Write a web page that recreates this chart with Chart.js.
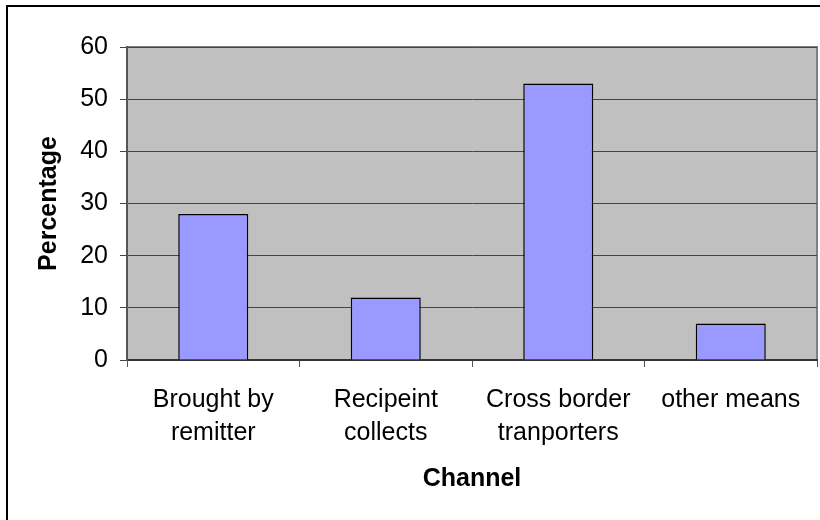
<!DOCTYPE html>
<html>
<head>
<meta charset="utf-8">
<script src="https://cdn.jsdelivr.net/npm/chart.js@4"></script>
<style>
  html, body { margin: 0; padding: 0; background: #fff; }
  #wrap { width: 820px; height: 520px; }
</style>
</head>
<body>
<div id="wrap"><canvas id="chart1" width="820" height="520"></canvas></div>
<script>
// channels used to send money home
const channels = [['Brought by', 'remitter'], ['Recipeint', 'collects'], ['Cross border', 'tranporters'], 'other means'];
const percentages = [28, 12, 53, 7];
const yTicks = [0, 10, 20, 30, 40, 50, 60];

const FONT = 'Liberation Sans, Arial, Helvetica, sans-serif';

// grey plot area + outer frame
const frame = {
    id: 'frame',
    beforeDraw(chart) {
        const c = chart.ctx;
        const a = chart.chartArea;
        c.save();
        c.fillStyle = '#fff';
        c.fillRect(0, 0, chart.width, chart.height);
        c.strokeStyle = '#000';
        c.lineWidth = 2;
        c.strokeRect(7, 6, chart.width + 20, chart.height + 20);
        c.fillStyle = '#c0c0c0';
        c.fillRect(a.left, a.top, a.right - a.left, a.bottom - a.top);
        c.strokeStyle = '#808080';
        c.lineWidth = 2;
        c.strokeRect(a.left, a.top, a.right - a.left, a.bottom - a.top);
        c.restore();
    }
};

const ctx1 = document.getElementById('chart1').getContext('2d');
const chart1 = new Chart(ctx1, {
    type: 'bar',
    data: {
        labels: channels,
        datasets: [{
            label: 'Percentage',
            data: percentages,
            backgroundColor: '#9999ff',
            borderColor: '#000',
            borderWidth: 1.5,
            categoryPercentage: 1,
            barPercentage: 0.406
        }]
    },
    options: {
        responsive: false,
        animation: false,
        layout: { padding: { left: 28, top: 47, right: 3, bottom: 22 } },
        plugins: { legend: { display: false }, tooltip: { enabled: false } },
        scales: {
            x: {
                afterFit(s) { s.height = 138; },
                grid: { display: true, drawOnChartArea: false, tickLength: 7, color: '#555', offset: true },
                border: { color: '#333', width: 2 },
                ticks: { color: '#000', font: { family: FONT, size: 25, lineHeight: 1.3 }, padding: 17, maxRotation: 0, autoSkip: false },
                title: { display: true, text: 'Channel', color: '#000', font: { family: FONT, size: 25, weight: 'bold' }, padding: { top: 4, bottom: 4 } }
            },
            y: {
                min: 0,
                max: 60,
                afterFit(s) { s.width = 99; },
                afterBuildTicks(s) { s.ticks = yTicks.map(v => ({ value: v })); },
                grid: { color: '#444', lineWidth: 1, tickLength: 7 },
                border: { color: '#555', width: 2 },
                ticks: { color: '#000', font: { family: FONT, size: 25 }, padding: 12 },
                title: { display: true, text: 'Percentage', color: '#000', font: { family: FONT, size: 25, weight: 'bold' }, padding: { top: 6, bottom: 4 } }
            }
        }
    },
    plugins: [frame]
});
</script>
</body>
</html>
